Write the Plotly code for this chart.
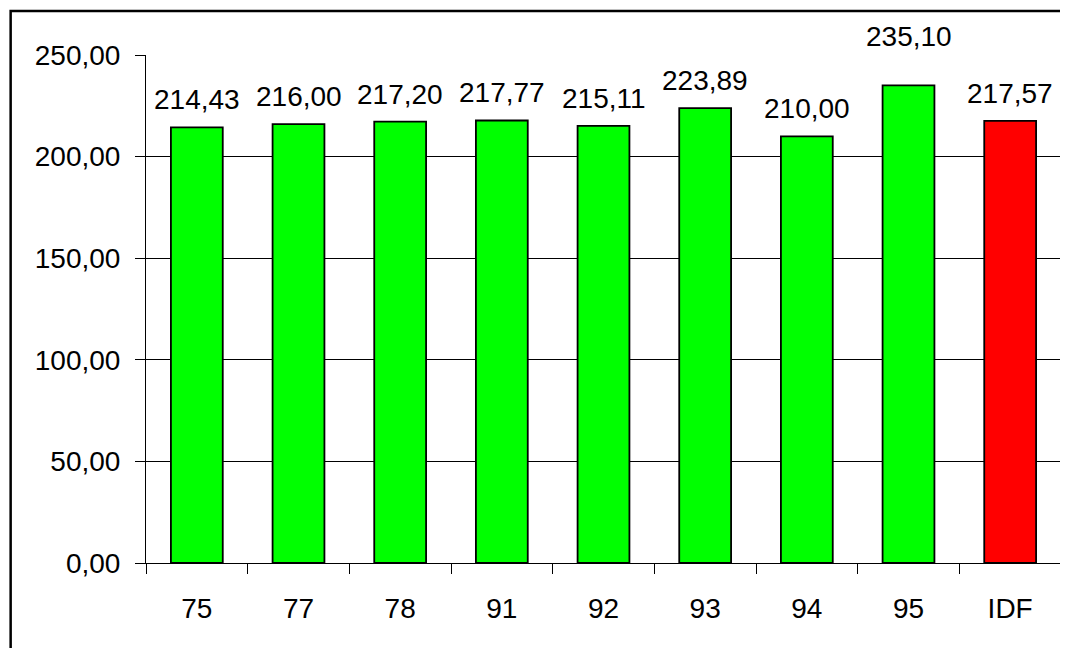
import plotly.graph_objects as go

categories = ["75", "77", "78", "91", "92", "93", "94", "95", "IDF"]
values = [214.43, 216.00, 217.20, 217.77, 215.11, 223.89, 210.00, 235.10, 217.57]
label_texts = ["214,43", "216,00", "217,20", "217,77", "215,11", "223,89", "210,00", "235,10", "217,57"]

GREEN = "#00FF00"
RED = "#FF0000"
colors = [RED if c == "IDF" else GREEN for c in categories]

FONT = "Liberation Sans, Arial, sans-serif"
FS = 28

# the page body has an 8px default margin; the figure is sized to fit inside it
OFF = 8
W, H = 1068 - OFF, 648 - OFF
ML, MR, MT, MB = 145.5 - OFF, 6.5, 55 - OFF, 85

fig = go.Figure(
    go.Bar(
        x=categories,
        y=values,
        marker=dict(color=colors, line=dict(color="black", width=1.8)),
        hoverinfo="skip",
    )
)

# data labels as annotations above each bar (x given as category index)
extra_shift = {"95": 21}
for i, (c, v, t) in enumerate(zip(categories, values, label_texts)):
    fig.add_annotation(
        x=i, y=v, xref="x", yref="y", text=t, showarrow=False,
        yanchor="bottom", xanchor="center",
        yshift=10 + extra_shift.get(c, 0),
        font=dict(family=FONT, size=FS, color="black"),
    )

pw = W - ML - MR
ph = H - MT - MB
# outer chart frame (clipped at right and bottom in the reference)
fx0, fy0 = 10 - OFF, 11 - OFF
fig.add_shape(
    type="rect", xref="paper", yref="paper",
    x0=(fx0 - ML) / pw, x1=(W + 5 - ML) / pw,
    y0=(H - MB - (H + 5)) / ph, y1=(H - MB - fy0) / ph,
    line=dict(color="black", width=2.5), fillcolor="rgba(0,0,0,0)", layer="above",
)

fig.update_layout(
    width=W, height=H,
    margin=dict(l=ML, r=MR, t=MT, b=MB, pad=0, autoexpand=False),
    paper_bgcolor="white", plot_bgcolor="white",
    separators=", ",
    bargap=0.49,
    showlegend=False,
    font=dict(family=FONT, size=FS, color="black"),
    xaxis=dict(
        type="category", range=[-0.5, len(categories) - 0.5],
        tickson="boundaries", ticks="outside", ticklen=10, tickangle=0,
        tickcolor="black", tickwidth=1, showline=True, linecolor="black", linewidth=1,
        showgrid=False, ticklabelstandoff=20, automargin=False,
        tickfont=dict(family=FONT, size=FS, color="black"),
    ),
    yaxis=dict(
        range=[0, 250], dtick=50, tickformat=".2f", ticks="outside", ticklen=10,
        tickcolor="black", tickwidth=1, showline=True, linecolor="black", linewidth=1,
        showgrid=True, gridcolor="black", gridwidth=1, zeroline=False, automargin=False,
        ticklabelstandoff=9, tickfont=dict(family=FONT, size=FS, color="black"),
    ),
)

fig.write_html("out.html")
